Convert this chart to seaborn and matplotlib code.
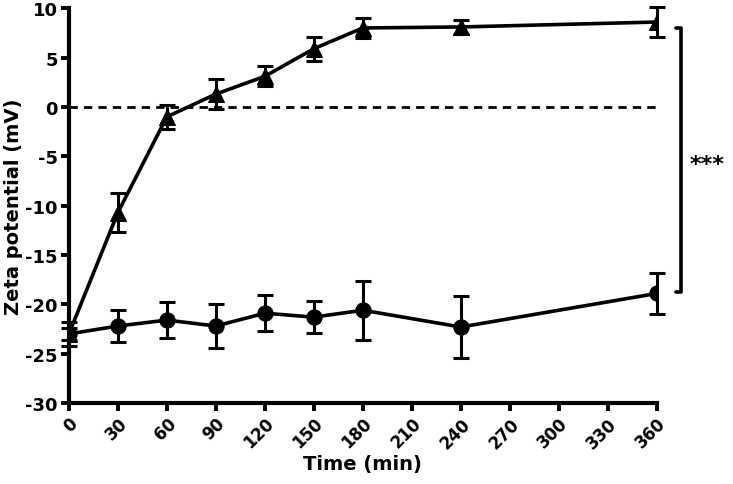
import matplotlib
matplotlib.use("Agg")
import matplotlib.pyplot as plt
import numpy as np
import pandas as pd
import seaborn as sns

time_min = [0, 30, 60, 90, 120, 150, 180, 240, 360]
zeta_triangle = [-23.0, -10.7, -1.0, 1.3, 3.1, 5.9, 8.0, 8.1, 8.6]
err_triangle = [0.6, 2.0, 1.2, 1.5, 1.0, 1.2, 1.0, 0.7, 1.5]
zeta_circle = [-23.0, -22.2, -21.6, -22.2, -20.9, -21.3, -20.6, -22.3, -18.9]
err_circle = [1.2, 1.6, 1.8, 2.2, 1.8, 1.6, 3.0, 3.1, 2.1]
x_ticks = list(range(0, 361, 30))
y_ticks = list(range(-30, 11, 5))

sns.set_style("ticks")
plt.rcParams["font.family"] = ["DejaVu Sans"]
plt.rcParams["font.weight"] = "bold"
for key in ["text.color", "axes.labelcolor", "xtick.color", "ytick.color", "axes.edgecolor"]:
    plt.rcParams[key] = "black"

df = pd.DataFrame({
    "time": time_min * 2,
    "zeta": zeta_triangle + zeta_circle,
    "err": err_triangle + err_circle,
    "group": ["tri"] * len(time_min) + ["circ"] * len(time_min),
})

fig = plt.figure(figsize=(7.33, 4.85), dpi=100)
ax = fig.add_axes([0.094, 0.167, 0.802, 0.814])

ax.plot([0, 360], [0, 0], ls=(0, (3, 2.2)), color="black", lw=2, zorder=1)

sns.lineplot(data=df, x="time", y="zeta", style="group", markers={"tri": "^", "circ": "o"},
             dashes=False, color="black", linewidth=2.6, markersize=11, legend=False,
             markeredgecolor="black", ax=ax, zorder=3)
for g in ["tri", "circ"]:
    d = df[df["group"] == g]
    ax.errorbar(d["time"], d["zeta"], yerr=d["err"], fmt="none", ecolor="black",
                elinewidth=2.2, capsize=6, capthick=2.2, zorder=2, clip_on=False)

ax.set_xlim(0, 360)
ax.set_ylim(-30, 10)
ax.set_xticks(x_ticks)
ax.set_yticks(y_ticks)
ax.set_xticklabels([str(t) for t in x_ticks], rotation=45, ha="right",
                   rotation_mode="anchor", fontsize=12, fontweight="bold")
ax.set_yticklabels([str(t) for t in y_ticks], fontsize=13, fontweight="bold")
ax.tick_params(axis="both", direction="out", length=6, width=2.8, pad=2, color="black")
ax.set_xlabel("Time (min)", fontsize=14, fontweight="bold", labelpad=2)
ax.set_ylabel("Zeta potential (mV)", fontsize=14, fontweight="bold", labelpad=2)
sns.despine(ax=ax)
for s in ["left", "bottom"]:
    ax.spines[s].set_linewidth(3)
    ax.spines[s].set_color("black")

# significance bracket
ax.plot([372, 375, 375, 372], [8.0, 8.0, -18.8, -18.8], color="black", lw=2.6,
        clip_on=False)
ax.text(380, -5.8, "***", fontsize=16, fontweight="bold", va="center", ha="left",
        clip_on=False)

fig.savefig("out.png", dpi=100)
